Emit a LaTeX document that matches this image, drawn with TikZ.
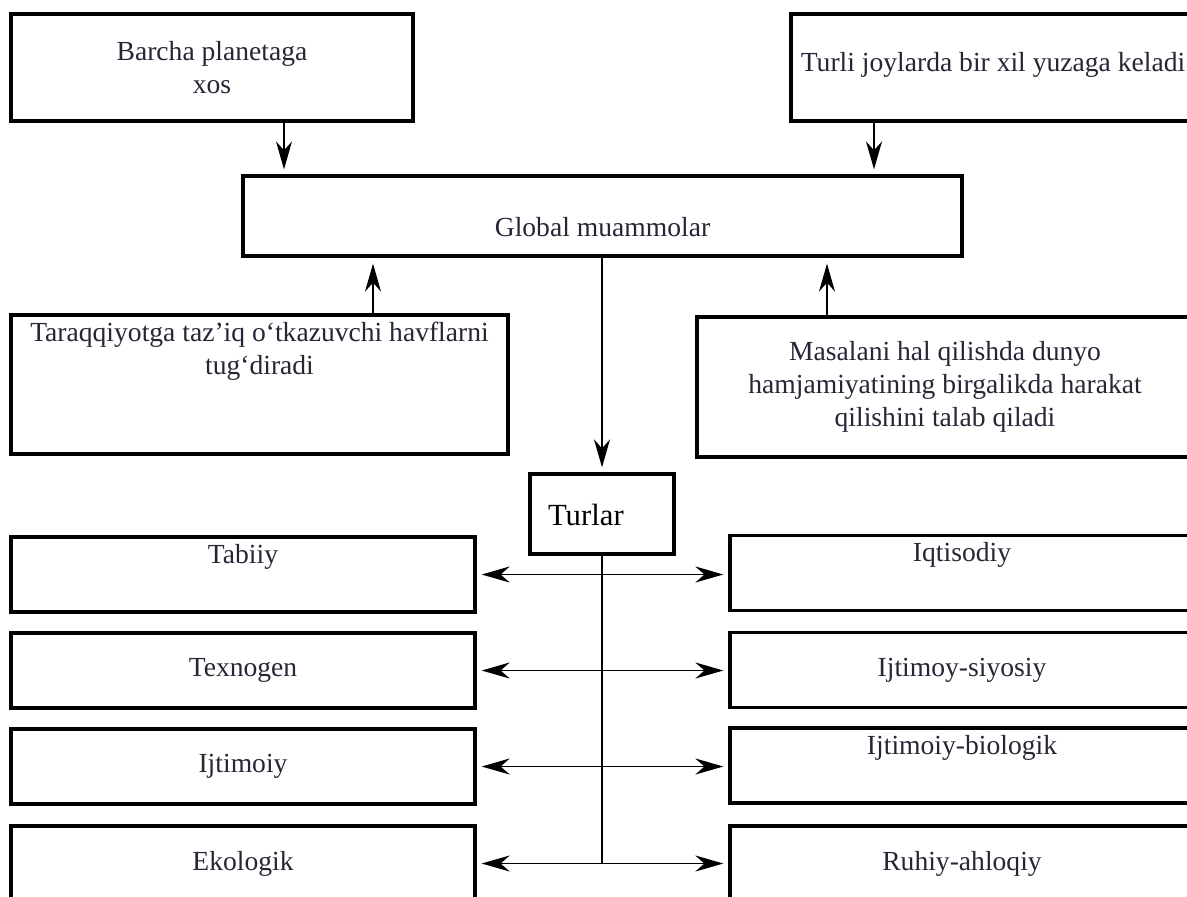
\documentclass[tikz,border=0pt]{standalone}
\usepackage{fontspec}
\setmainfont{Liberation Serif}
\usetikzlibrary{arrows.meta}
\definecolor{ink}{RGB}{38,38,54}
\tikzset{
  box/.style={draw, line width=0.65mm, inner sep=0pt, text=ink, align=center,
    font=\fontsize{15.7}{18.8}\selectfont},
  row/.style={box, minimum width=92.8mm, minimum height=15mm},
  hi/.style={text height=5.2mm, text depth=9.8mm},
  arr/.style={-{Stealth[length=5.6mm,width=3.2mm,inset=1.8mm]}, line width=0.35mm},
  dbl/.style={{Stealth[length=5.6mm,width=3.2mm,inset=1.8mm]}-{Stealth[length=5.6mm,width=3.2mm,inset=1.8mm]},
    line width=0.35mm, shorten <=1mm, shorten >=1mm},
}
\begin{document}
\begin{tikzpicture}[x=0.2mm,y=-0.2mm]
    \useasboundingbox (0,0) rectangle (1187,896);
    \clip (0,0) rectangle (1187,896);
    \node[box, minimum width=80.4mm, minimum height=21.4mm] (bp) at (212,67.5) {Barcha planetaga\\xos};
    \node[box, minimum width=80.8mm, minimum height=21.4mm, text height=11.4mm, text depth=10mm] (tj) at (993,67.5) {Turli joylarda bir xil yuzaga keladi};
    \node[box, minimum width=143.8mm, minimum height=16mm, text height=12mm, text depth=4mm] (gm) at (602.5,216) {Global muammolar};
    \node[box, minimum width=99.4mm, minimum height=27.8mm] (tq) at (259.5,384.5) {};
    \node[anchor=north, inner sep=1.6mm, text=ink, align=center, font=\fontsize{15.7}{18.8}\selectfont] (tqt) at (tq.north) {Taraqqiyotga taz’iq o‘tkazuvchi havflarni\\tug‘diradi};
    \node[box, minimum width=99.2mm, minimum height=28mm] (mh) at (945,387) {Masalani hal qilishda dunyo\\hamjamiyatining birgalikda harakat\\qilishini talab qiladi};
    \node[box, minimum width=28.8mm, minimum height=16mm, text height=10.2mm, text depth=5.8mm, text width=21.6mm, inner xsep=3.6mm, align=left, text=black, font=\fontsize{17.5}{21}\selectfont] (tr) at (602,514) {Turlar};
    % turlar
    \node[row, hi] (l1) at (243,574.5) {Tabiiy};
    \node[row] (l2) at (243,670.5) {Texnogen};
    \node[row] (l3) at (243,766.5) {Ijtimoiy};
    \node[row] (l4) at (243,863.5) {Ekologik};
    \node[row, hi] (r1) at (962,573) {Iqtisodiy};
    \node[row] (r2) at (962,670) {Ijtimoy-siyosiy};
    \node[row, hi] (r3) at (962,765.5) {Ijtimoiy-biologik};
    \node[row] (r4) at (962,863.5) {Ruhiy-ahloqiy};
    \draw[arr, shorten >=1mm] ([xshift=14.4mm]bp.south) -- ([xshift=14.4mm]bp.south |- gm.north);
    \draw[arr, shorten >=1mm] ([xshift=-23.8mm]tj.south) -- ([xshift=-23.8mm]tj.south |- gm.north);
    \draw[arr, shorten >=1.2mm] ([xshift=22.7mm]tq.north) -- ([xshift=22.7mm]tq.north |- gm.south);
    \draw[arr, shorten >=1.2mm] ([xshift=-23.6mm]mh.north) -- ([xshift=-23.6mm]mh.north |- gm.south);
    \draw[arr, shorten >=1mm] (gm.south -| tr.north) -- (tr.north);
    \draw[line width=0.35mm] (tr.south) -- (tr.south |- l4.east);
    \draw[dbl] (l1.east) -- (l1.east -| r1.west);
    \draw[dbl] (l2.east) -- (l2.east -| r2.west);
    \draw[dbl] (l3.east) -- (l3.east -| r3.west);
    \draw[dbl] (l4.east) -- (l4.east -| r4.west);
  \end{tikzpicture}
\end{document}
